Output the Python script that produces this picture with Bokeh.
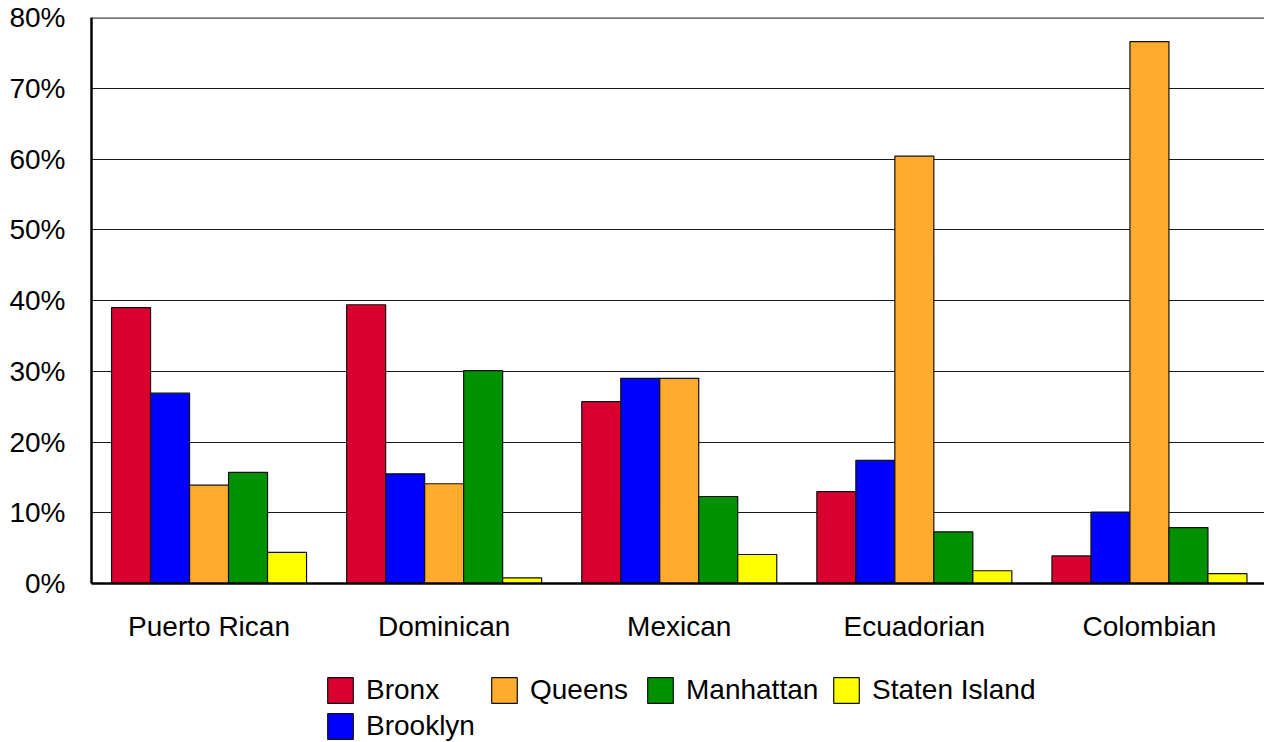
import numpy as np
from bokeh.plotting import figure
from bokeh.layouts import column
from bokeh.models import (ColumnDataSource, Range1d, FixedTicker, PrintfTickFormatter,
                          Legend, LegendItem, Span)
from bokeh.embed import file_html
from bokeh.resources import INLINE

categories = ["Puerto Rican", "Dominican", "Mexican", "Ecuadorian", "Colombian"]
boroughs = ["Bronx", "Brooklyn", "Queens", "Manhattan", "Staten Island"]
bronx = [39.0, 39.4, 25.7, 13.0, 3.9]
brooklyn = [26.9, 15.5, 29.0, 17.4, 10.1]
queens = [13.9, 14.1, 29.0, 60.4, 76.6]
manhattan = [15.7, 30.1, 12.3, 7.3, 7.9]
staten_island = [4.4, 0.8, 4.1, 1.8, 1.4]
colors = ["#d90030", "#0000ff", "#ffab2e", "#009100", "#ffff00"]
y_ticks = [0, 10, 20, 30, 40, 50, 60, 70, 80]

series = [bronx, brooklyn, queens, manhattan, staten_island]
FONT = "Liberation Sans"
FS = "28px"

W = 1264
MAIN_H = 660
LEG_H = 82
LEFT = 91
CAT_PX = 235.1

p = figure(width=W, height=MAIN_H, output_backend="svg", toolbar_location=None,
           x_range=Range1d(0, (W - LEFT) / CAT_PX), y_range=Range1d(0, 80),
           min_border_left=LEFT, min_border_right=0, min_border_top=17,
           min_border_bottom=MAIN_H - 17 - 566,
           background_fill_color="white", border_fill_color="white")
p.outline_line_color = None

bar_w = 39 / CAT_PX
idx = np.arange(len(categories))
for k, (name, vals, col) in enumerate(zip(boroughs, series, colors)):
    src = ColumnDataSource(dict(x=idx + 0.5 + (k - 2) * bar_w, top=vals))
    p.vbar(x="x", top="top", bottom=0, width=bar_w, source=src,
           fill_color=col, line_color="#111111", line_width=1.2)

# grid
p.xgrid.visible = False
p.ygrid.ticker = FixedTicker(ticks=y_ticks)
p.ygrid.grid_line_color = "#1a1a1a"
p.ygrid.grid_line_width = 1
p.add_layout(Span(location=80, dimension="width", line_color="#444444", line_width=2.5))

# y axis
p.yaxis.ticker = FixedTicker(ticks=y_ticks)
p.yaxis.formatter = PrintfTickFormatter(format="%d%%")
p.yaxis.axis_line_width = 2.5
p.yaxis.axis_line_color = "black"
p.yaxis.major_tick_line_color = None
p.yaxis.minor_tick_line_color = None
p.yaxis.major_label_text_font = FONT
p.yaxis.major_label_text_font_size = FS
p.yaxis.major_label_text_color = "black"
p.yaxis.major_label_standoff = 20

# x axis
p.xaxis.ticker = FixedTicker(ticks=list(idx + 0.5))
p.xaxis.major_label_overrides = {float(i + 0.5): c for i, c in enumerate(categories)}
p.xaxis.axis_line_width = 2.5
p.xaxis.axis_line_color = "black"
p.xaxis.major_tick_line_color = None
p.xaxis.minor_tick_line_color = None
p.xaxis.major_label_text_font = FONT
p.xaxis.major_label_text_font_size = FS
p.xaxis.major_label_text_color = "black"
p.xaxis.major_label_standoff = 21

# legend strip below the chart (its frame is aligned with the chart's frame)
p2 = figure(width=W, height=LEG_H, output_backend="svg", toolbar_location=None,
            x_axis_type=None, y_axis_type=None, x_range=Range1d(0, 1), y_range=Range1d(0, 1),
            min_border_left=0, min_border_right=0, min_border_top=0, min_border_bottom=0,
            background_fill_color="white", border_fill_color="white")
p2.outline_line_color = None
p2.grid.visible = False
swatch = {}
for name, col in zip(boroughs, colors):
    # off-range placeholder renderer that only supplies the legend swatch style
    swatch[name] = p2.vbar(x=[-5.0], top=[0.0], width=0.1, fill_color=col,
                           line_color="#111111", line_width=1.2)

legend_pos = {"Bronx": (324, 36), "Queens": (488, 36), "Manhattan": (644, 36),
              "Staten Island": (830, 36), "Brooklyn": (324, 0)}
for name in ["Bronx", "Queens", "Manhattan", "Staten Island", "Brooklyn"]:
    sx, vy = legend_pos[name]
    lg = Legend(items=[LegendItem(label=name, renderers=[swatch[name]])],
                location=(sx - LEFT, vy),
                glyph_width=32, glyph_height=32, label_standoff=10, spacing=0,
                label_text_font=FONT, label_text_font_size=FS, label_text_color="black",
                label_height=26, padding=0, margin=0,
                background_fill_alpha=0, border_line_color=None)
    p2.add_layout(lg, "center")

layout = column(p, p2, spacing=0)
open("out.html", "w").write(file_html(layout, INLINE))
